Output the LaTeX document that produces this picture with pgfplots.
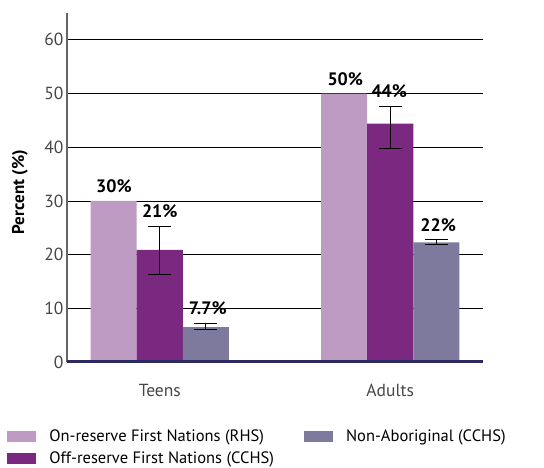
\documentclass[border=0pt]{standalone}
\usepackage{pgfplots}
\pgfplotsset{compat=1.18}
\usepackage{pgfplotstable}
\usepackage{fontspec}
\setmainfont{PT Sans}
\definecolor{lightp}{RGB}{190,155,195}
\definecolor{darkp}{RGB}{123,41,128}
\definecolor{grayp}{RGB}{126,122,158}
\definecolor{navyl}{RGB}{44,42,94}
\definecolor{tickc}{RGB}{70,70,70}
\pgfplotstableread{
x y
0 30
1 50
}\onreserve
\pgfplotstableread{
x y ep em
0 20.9 4.4 4.6
1 44.4 3.2 4.6
}\offreserve
\pgfplotstableread{
x y ep em
0 6.5 0.6 0.4
1 22.3 0.6 0.4
}\nonab
\begin{document}
\begin{tikzpicture}[x=1pt,y=1pt]
\useasboundingbox (0,0) rectangle (544,467);
\begin{axis}[
  at={(67pt,105pt)}, anchor=south west,
  scale only axis, width=416pt, height=349pt,
  xmin=-0.4026, xmax=1.4026, ymin=0, ymax=65,
  ytick={0,10,...,60}, xtick={0,1}, xticklabels={Teens,Adults},
  axis lines*=left, axis line style={-},
  x axis line style={draw=none},
  y axis line style={draw=black!60, line width=1.2pt},
  major tick length=0pt,
  ymajorgrids, major grid style={black, line width=0.8pt},
  /pgf/number format/assume math mode=true,
  ticklabel style={font=\fontsize{17.5}{17.5}\selectfont, text=tickc},
  xticklabel style={yshift=-19pt},
  ylabel={\bfseries Percent (\%)},
  ylabel style={at={(rel axis cs:-0.113,0.487)}, anchor=center, rotate=0, font=\fontsize{17}{17}\selectfont},
  ybar, bar width=0.2,
  legend style={at={(rel axis cs:-0.144,-0.188)}, anchor=north west, draw=none, fill=none, inner sep=0pt,
    font=\fontsize{16.5}{16.5}\selectfont, row sep=4.5pt,
    /tikz/every even column/.append style={column sep=28pt}},
  legend columns=2, transpose legend, legend cell align=left,
  legend image code/.code={\fill[#1] (0pt,-5.5pt) rectangle (29pt,5.5pt); \path (40pt,0pt);},
  error bars/y dir=both, error bars/y explicit,
  error bars/error bar style={black, line width=1pt},
  error bars/error mark options={rotate=90, mark size=11.5pt, line width=1pt, black},
]
\addplot[fill=lightp, draw=none, bar shift=-0.2, error bars/y dir=none] table[x=x, y=y] {\onreserve};
\addlegendentry{On-reserve First Nations (RHS)}
\addplot[fill=darkp, draw=none, bar shift=0] table[x=x, y=y, y error plus=ep, y error minus=em] {\offreserve};
\addlegendentry{Off-reserve First Nations (CCHS)}
\addplot[fill=grayp, draw=none, bar shift=0.2] table[x=x, y=y, y error plus=ep, y error minus=em] {\nonab};
\addlegendentry{Non-Aboriginal (CCHS)}
\draw[navyl, line width=4.5pt] (rel axis cs:0,0) -- (rel axis cs:1,0);
\begin{scope}[every node/.style={font=\bfseries\fontsize{18}{18}\selectfont, text=black}]
\node at (axis cs:-0.199,32.7) {30\%};
\node at (axis cs:0,28.1) {21\%};
\node at (axis cs:0.208,10.0) {7.7\%};
\node at (axis cs:0.805,52.6) {50\%};
\node at (axis cs:0.996,50.4) {44\%};
\node at (axis cs:1.208,25.5) {22\%};
\end{scope}
\end{axis}
\end{tikzpicture}
\end{document}
